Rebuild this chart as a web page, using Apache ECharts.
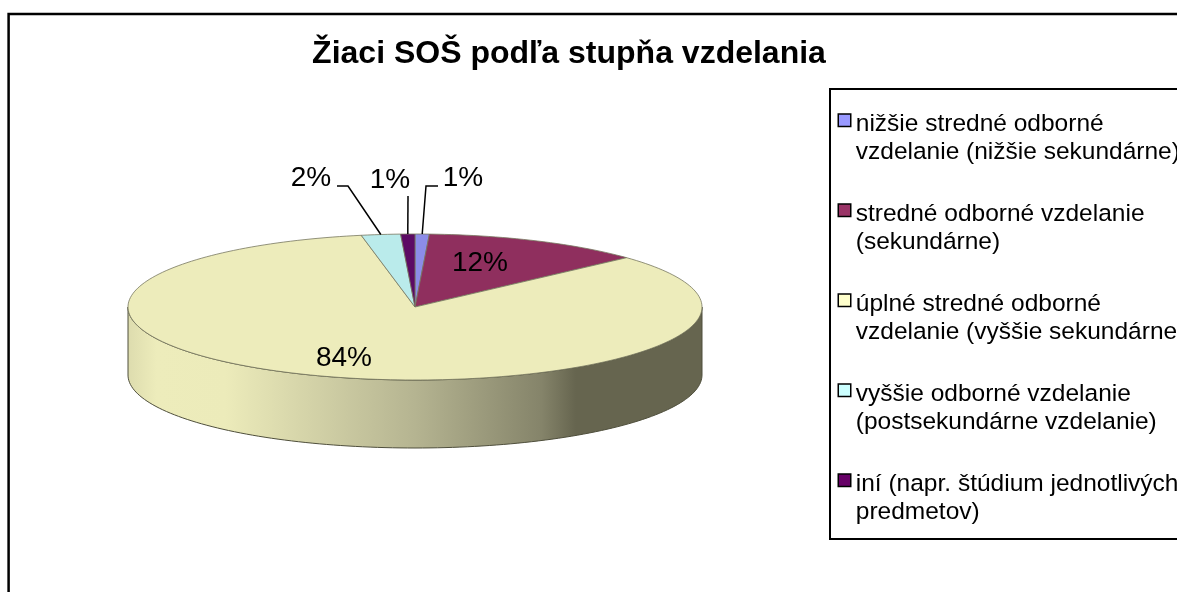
<!DOCTYPE html>
<html>
<head>
<meta charset="utf-8">
<style>
html, body { margin: 0; padding: 0; background: #fff; }
#main { width: 1177px; height: 592px; }
</style>
<script src="https://cdn.jsdelivr.net/npm/echarts@6/dist/echarts.min.js"></script>
</head>
<body>
<div id="main"></div>
<script>
const titleText = "Žiaci SOŠ podľa stupňa vzdelania";
const categories = [
  "nižšie stredné odborné\nvzdelanie (nižšie sekundárne)",
  "stredné odborné vzdelanie\n(sekundárne)",
  "úplné stredné odborné\nvzdelanie (vyššie sekundárne)",
  "vyššie odborné vzdelanie\n(postsekundárne vzdelanie)",
  "iní (napr. štúdium jednotlivých\npredmetov)"
];
const values = [0.8, 12.4, 83.8, 2.2, 0.8];
const legendColors = ["#9999ff", "#993366", "#ffffcc", "#ccffff", "#660066"];
const topColors = ["#8c8ce8", "#8f2f5e", "#edecbb", "#baebeb", "#5c0a64"];
// label centre, and the elbow of the leader line where there is one
const labelPos = [[463, 178], [480, 263], [344, 358], [311, 178], [390, 180]];
const leaderFrom = [[438, 186], null, null, [337, 186], [408, 196]];
const leaderElbow = [[426, 186], null, null, [348, 186], null];

const cx = 415, cy = 307, rx = 287, ry = 73, depth = 68;
const total = values.reduce((a, b) => a + b, 0);

function point(deg, dy) {
  const t = deg * Math.PI / 180;
  return [cx + rx * Math.sin(t), cy - ry * Math.cos(t) + (dy || 0)];
}

function arcPoints(from, to, dy) {
  const pts = [];
  const n = Math.max(2, Math.ceil(Math.abs(to - from) / 1.5));
  for (let i = 0; i <= n; i++) pts.push(point(from + (to - from) * i / n, dy));
  return pts;
}

function sliceRange(idx) {
  let sum = 0;
  for (let i = 0; i < idx; i++) sum += values[i];
  return [sum / total * 360, (sum + values[idx]) / total * 360];
}

const sideGradient = {
  type: "linear", global: true, x: cx - rx, y: 0, x2: cx + rx, y2: 0,
  colorStops: [
    { offset: 0, color: "#dddcae" },
    { offset: 0.05, color: "#edecbb" },
    { offset: 0.17, color: "#ecebba" },
    { offset: 0.5, color: "#b5b491" },
    { offset: 0.72, color: "#85846a" },
    { offset: 0.78, color: "#66654f" },
    { offset: 1, color: "#66654f" }
  ]
};

function renderSlice(idx) {
  return function () {
    const [from, to] = sliceRange(idx);
    const children = [];
    // side wall, front half of the rim only
    const a = Math.max(from, 90), b = Math.min(to, 270);
    if (b > a) {
      const upper = arcPoints(a, b, 0);
      const lower = arcPoints(a, b, depth).reverse();
      children.push({
        type: "polygon", z2: 1,
        shape: { points: upper.concat(lower) },
        style: { fill: sideGradient, stroke: "#4f4f3c", lineWidth: 1 }
      });
    }
    const top = [[cx, cy]].concat(arcPoints(from, to, 0));
    children.push({
      type: "polygon", z2: 2,
      shape: { points: top },
      style: { fill: topColors[idx], stroke: "#77775f", lineWidth: 0.8 }
    });
    const rim = point((from + to) / 2, 0);
    if (leaderFrom[idx]) {
      const line = [leaderFrom[idx]];
      if (leaderElbow[idx]) line.push(leaderElbow[idx]);
      line.push(rim);
      children.push({
        type: "polyline", z2: 5,
        shape: { points: line },
        style: { fill: null, stroke: "#000", lineWidth: 1.5 }
      });
    }
    children.push({
      type: "text", z2: 6,
      x: labelPos[idx][0], y: labelPos[idx][1],
      style: {
        text: Math.round(values[idx]) + "%",
        fill: "#000",
        font: '28px "Liberation Sans", Arial, sans-serif',
        align: "center",
        verticalAlign: "middle"
      }
    });
    return { type: "group", children: children };
  };
}

const legendFont = {
  fontFamily: '"Liberation Sans", Arial, sans-serif',
  fontSize: 24.5,
  lineHeight: 28.5,
  color: "#000"
};

const chart = echarts.init(document.getElementById("main"));
chart.setOption({
  animation: false,
  backgroundColor: "#fff",
  title: {
    text: titleText,
    left: 569,
    top: 38,
    padding: 0,
    textAlign: "center",
    textStyle: {
      fontFamily: '"Liberation Sans", Arial, sans-serif',
      fontSize: 32,
      fontWeight: "bold",
      color: "#000"
    }
  },
  legend: {
    orient: "vertical",
    left: 837.5,
    top: 74,
    padding: 0,
    itemWidth: 12.5,
    itemHeight: 12.5,
    itemGap: -2.5,
    selectedMode: false,
    icon: "rect",
    itemStyle: { borderColor: "#000", borderWidth: 1.5 },
    // blank first line puts the marker just above the first line of the name
    formatter: name => "{gap| }\n" + name.split("\n").map(s => "{line|" + s + "}").join("\n"),
    textStyle: {
      ...legendFont,
      rich: {
        gap: { fontSize: 10, lineHeight: 35.5 },
        line: legendFont
      }
    },
    data: categories
  },
  graphic: [
    {
      type: "rect", silent: true, z: -1,
      shape: { x: 8.6, y: 14, width: 1300, height: 800 },
      style: { fill: "#fff", stroke: "#000", lineWidth: 2.5 }
    },
    {
      type: "rect", silent: true, z: -1,
      shape: { x: 830, y: 89, width: 500, height: 450 },
      style: { fill: "#fff", stroke: "#000", lineWidth: 2 }
    }
  ],
  series: categories.map((name, i) => ({
    type: "custom",
    name: name,
    coordinateSystem: "none",
    silent: true,
    itemStyle: { color: legendColors[i] },
    data: [values[i]],
    renderItem: renderSlice(i)
  }))
});
window.addEventListener("resize", () => chart.resize());
</script>
</body>
</html>
